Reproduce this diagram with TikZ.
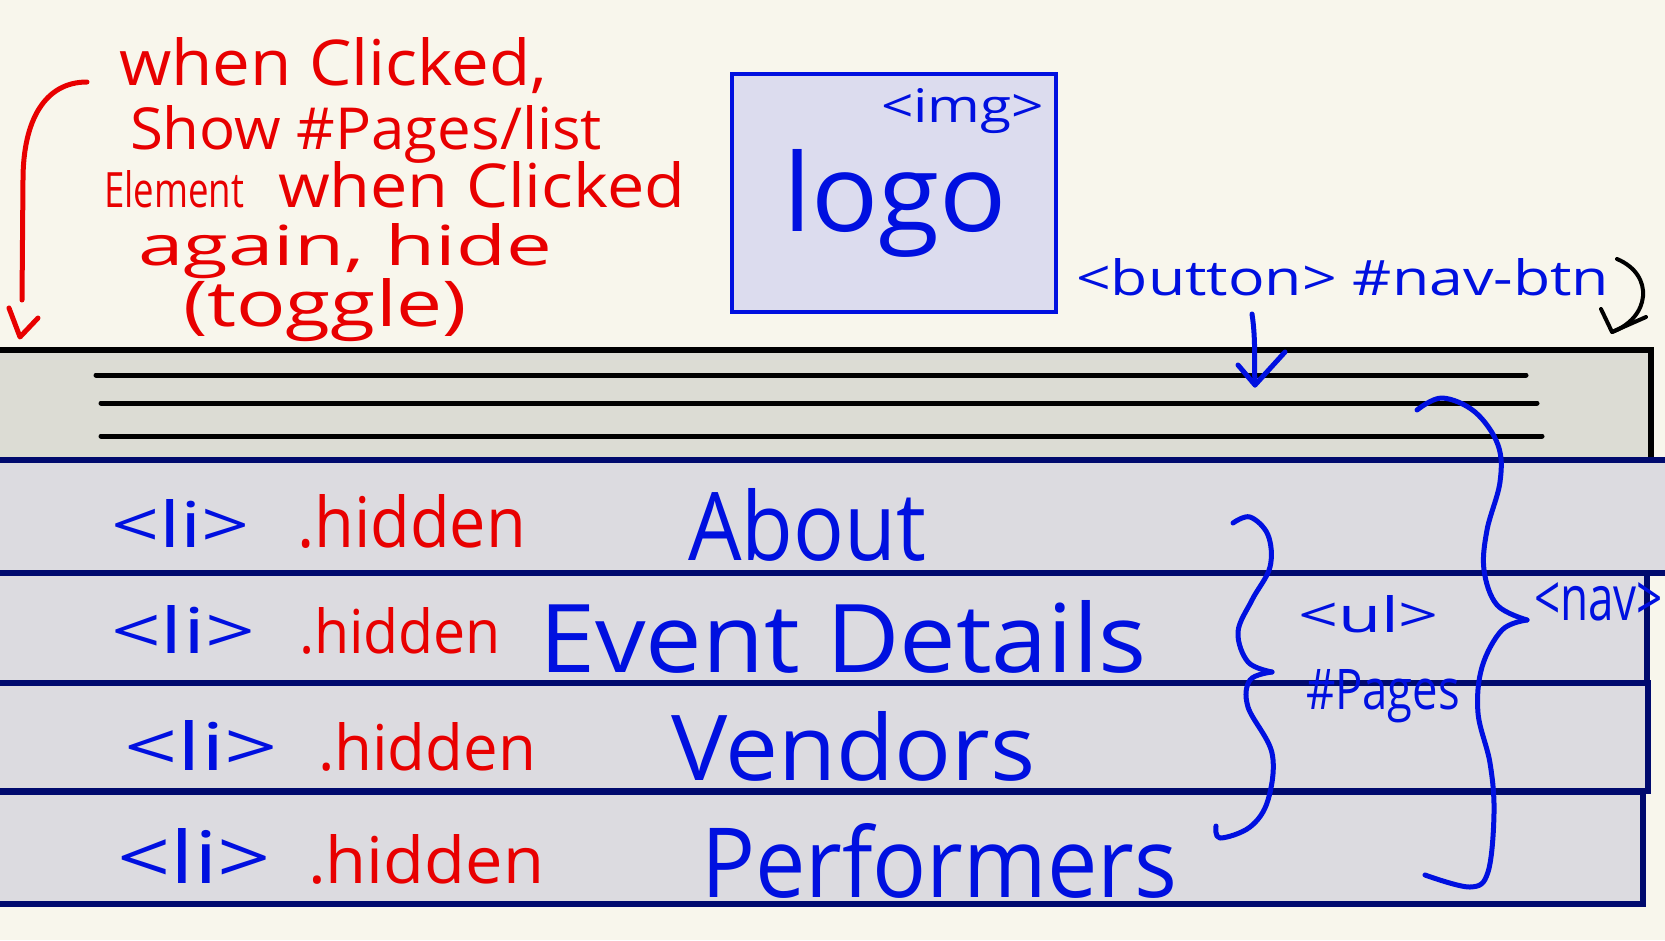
\documentclass[tikz,border=0pt]{standalone}
\usepackage{fontspec}
\setmainfont{Open Sans}
\usepackage{graphicx}
\definecolor{bg}{HTML}{F8F6EC}
\definecolor{hdr}{HTML}{DCDCD4}
\definecolor{rowf}{HTML}{DCDBE0}
\definecolor{navy}{HTML}{000A6E}
\definecolor{inkblue}{HTML}{0010E0}
\definecolor{inkred}{HTML}{E80000}
\definecolor{logof}{HTML}{DCDCEE}
\newcommand{\fitt}[3]{\resizebox{#1pt}{#2pt}{#3}}
\begin{document}
\begin{tikzpicture}[x=1pt,y=-1pt,
  lbl/.style={inner sep=0pt, outer sep=0pt, anchor=base west},
  bluet/.style={lbl, text=inkblue},
  redt/.style={lbl, text=inkred},
  ink/.style={line width=5pt, line cap=round, line join=round},
  hline/.style={line width=5pt, line cap=round, black},
  rowbox/.style={fill=rowf, draw=navy, line width=5.5pt},
]
\useasboundingbox (0,0) rectangle (1665,940);
\fill[bg] (0,0) rectangle (1665,940);

% header bar
\fill[hdr] (-5,350) rectangle (1651,460);
\draw[line width=6pt] (-5,350) -- (1651,350) -- (1651,460);
\draw[hline] (96,375) -- (1526,375);
\draw[hline] (101,403) -- (1537,403);
\draw[hline] (101,436) -- (1542,436);

% list rows
\draw[rowbox] (-10,460) rectangle (1680,573);
\draw[rowbox] (-10,573) rectangle (1647,683);
\draw[rowbox] (-10,683) rectangle (1648,791);
\draw[rowbox] (-10,792) rectangle (1643,904);

% logo box
\node[draw=inkblue, fill=logof, line width=4pt, minimum width=324pt, minimum height=238pt, anchor=north west, inner sep=0pt] (logobox) at (730,72) {};
\node[bluet] (logo) at (783,231) {\fitt{224}{82}{logo}};
\node[bluet] (img) at (881,122) {\fitt{163}{34}{<img>}};

% red annotation
\node[redt] (r1) at (119,85) {\fitt{428}{48}{when Clicked,}};
\node[redt] (r2) at (130,149) {\fitt{472}{44}{Show \#Pages/list}};
\node[redt] (r3a) at (104,207) {\fitt{140}{37}{Element}};
\node[redt] (r3b) at (278,207) {\fitt{407}{46}{when Clicked}};
\node[redt] (r4) at (138,265) {\fitt{414}{42}{again, hide}};
\node[redt] (r5) at (183,326) {\fitt{284}{48}{(toggle)}};

% red arrow
\coordinate (ra1) at (87,82);
\coordinate (ra2) at (22,300);
\coordinate (ra3) at (20,337);
\draw[ink, inkred] (ra1) .. controls (45,82) and (23,120) .. (23,180) -- (ra2);
\draw[ink, inkred] (9,308) -- (ra3) -- (38,318);

% button label and arrows
\node[bluet] (btn) at (1076,295) {\fitt{533}{37}{<button> \#nav-btn}};
\coordinate (ba1) at (1252,314);
\coordinate (ba2) at (1255,385);
\draw[ink, inkblue] (ba1) .. controls (1256,340) and (1254,365) .. (ba2);
\draw[ink, inkblue] (1238,365) -- (ba2) -- (1285,352);
\coordinate (ka1) at (1617,259);
\coordinate (ka2) at (1612,332);
\draw[line width=4pt, line cap=round, line join=round] (ka1) .. controls (1655,275) and (1650,318) .. (ka2);
\draw[line width=4pt, line cap=round, line join=round] (1601,309) -- (ka2) -- (1646,317);

% row texts
\node[bluet] (li1) at (111,547) {\fitt{139}{48}{<li>}};
\node[redt] (h1) at (297,547) {\fitt{229}{53}{.hidden}};
\node[bluet] (t1) at (688,560) {\fitt{238}{72}{About}};

\node[bluet] (li2) at (111,653) {\fitt{144}{48}{<li>}};
\node[redt] (h2) at (299,653) {\fitt{202}{46}{.hidden}};
\node[bluet] (t2) at (539,672) {\fitt{608}{72}{Event Details}};

\node[bluet] (li3) at (124,770) {\fitt{154}{50}{<li>}};
\node[redt] (h3) at (318,770) {\fitt{218}{48}{.hidden}};
\node[bluet] (t3) at (671,780) {\fitt{364}{69}{Vendors}};

\node[bluet] (li4) at (117,883) {\fitt{154}{55}{<li>}};
\node[redt] (h4) at (308,883) {\fitt{236}{49}{.hidden}};
\node[bluet] (t4) at (701,897) {\fitt{476}{74}{Performers}};

% ul brace
\draw[ink, inkblue] plot[smooth, tension=0.6] coordinates {(1233,523) (1250,517) (1268,535) (1270,567) (1252,600) (1238,632) (1248,662) (1272,672)};
\draw[ink, inkblue] plot[smooth, tension=0.6] coordinates {(1272,672) (1250,680) (1248,707) (1272,753) (1268,800) (1250,827) (1220,838) (1216,826)};
\node[bluet] (ul) at (1298,632) {\fitt{141}{37}{<ul>}};
\node[bluet] (pages) at (1306,709) {\fitt{154}{40}{\#Pages}};

% nav brace
\draw[ink, inkblue] plot[smooth, tension=0.6] coordinates {(1417,410) (1442,398) (1475,412) (1498,445) (1500,482) (1487,530) (1484,570) (1497,605) (1527,620)};
\draw[ink, inkblue] plot[smooth, tension=0.6] coordinates {(1527,620) (1502,630) (1482,667) (1478,713) (1490,763) (1494,813) (1488,872) (1470,887) (1425,875)};
\node[bluet] (nav) at (1534,620) {\fitt{129}{38}{<nav>}};
\end{tikzpicture}
\end{document}
